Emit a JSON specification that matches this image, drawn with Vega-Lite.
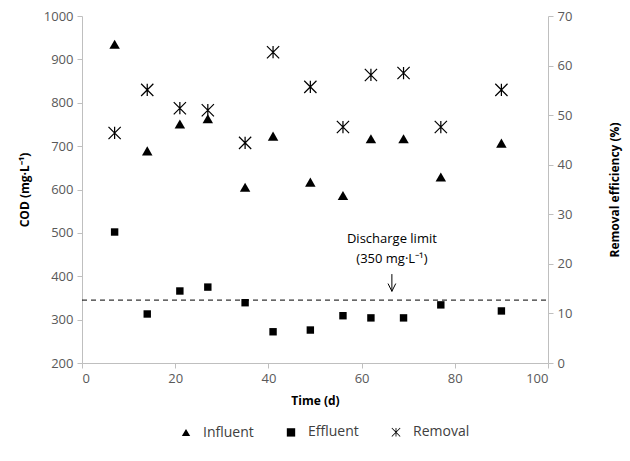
{
  "$schema": "https://vega.github.io/schema/vega-lite/v6.json",
  "width": 466,
  "height": 347,
  "autosize": "none",
  "padding": {"left": 82, "top": 16, "right": 82, "bottom": 98},
  "background": "white",
  "config": {
    "view": {"stroke": null},
    "font": "Open Sans",
    "axis": {"labelFont": "Open Sans", "labelFontSize": 13, "labelColor": "#595959", "domainColor": "#bfbfbf", "tickColor": "#bfbfbf", "grid": false, "titleFont": "Open Sans", "titleFontSize": 12, "titleFontWeight": "bold", "titleColor": "#000000", "tickSize": 5, "format": "d"}
  },
  "datasets": {
    "cod": [
      {"time": 7, "series": "Influent", "value": 935},
      {"time": 14, "series": "Influent", "value": 689},
      {"time": 21, "series": "Influent", "value": 751},
      {"time": 27, "series": "Influent", "value": 763},
      {"time": 35, "series": "Influent", "value": 605},
      {"time": 41, "series": "Influent", "value": 723},
      {"time": 49, "series": "Influent", "value": 617},
      {"time": 56, "series": "Influent", "value": 586},
      {"time": 62, "series": "Influent", "value": 717},
      {"time": 69, "series": "Influent", "value": 717},
      {"time": 77, "series": "Influent", "value": 629},
      {"time": 90, "series": "Influent", "value": 707},
      {"time": 7, "series": "Effluent", "value": 502},
      {"time": 14, "series": "Effluent", "value": 313},
      {"time": 21, "series": "Effluent", "value": 366},
      {"time": 27, "series": "Effluent", "value": 375},
      {"time": 35, "series": "Effluent", "value": 339},
      {"time": 41, "series": "Effluent", "value": 272},
      {"time": 49, "series": "Effluent", "value": 276},
      {"time": 56, "series": "Effluent", "value": 309},
      {"time": 62, "series": "Effluent", "value": 304},
      {"time": 69, "series": "Effluent", "value": 304},
      {"time": 77, "series": "Effluent", "value": 334},
      {"time": 90, "series": "Effluent", "value": 320}
    ],
    "removal": [
      {"time": 7, "series": "Removal", "value": 46.4},
      {"time": 14, "series": "Removal", "value": 55.1},
      {"time": 21, "series": "Removal", "value": 51.4},
      {"time": 27, "series": "Removal", "value": 51.0},
      {"time": 35, "series": "Removal", "value": 44.4},
      {"time": 41, "series": "Removal", "value": 62.7},
      {"time": 49, "series": "Removal", "value": 55.7},
      {"time": 56, "series": "Removal", "value": 47.6},
      {"time": 62, "series": "Removal", "value": 58.1},
      {"time": 69, "series": "Removal", "value": 58.5},
      {"time": 77, "series": "Removal", "value": 47.6},
      {"time": 90, "series": "Removal", "value": 55.1}
    ],
    "limit": [{"limit": 345}],
    "notes": [
      {"time": 66.5, "cod": 487, "label": "Discharge limit"},
      {"time": 66.5, "cod": 440, "label": "(350 mg·L⁻¹)"}
    ],
    "arrow": [{"time": 66.5, "top": 405, "bottom": 365}]
  },
  "layer": [
    {
      "data": {"name": "removal"},
      "mark": {"type": "point", "filled": true, "color": "#000000", "size": 150, "opacity": 1},
      "encoding": {
        "x": {"field": "time", "type": "quantitative", "scale": {"domain": [0, 100], "nice": false}, "axis": {"values": [0, 20, 40, 60, 80, 100], "title": "Time (d)", "titlePadding": 10, "labelPadding": 4}},
        "y": {"field": "value", "type": "quantitative", "scale": {"domain": [0, 70], "nice": false}, "axis": {"orient": "right", "values": [0, 10, 20, 30, 40, 50, 60, 70], "title": "Removal efficiency (%)", "titleAngle": 270, "titlePadding": 50, "labelPadding": 4}},
        "shape": {"field": "series", "type": "nominal", "scale": {"domain": ["Influent", "Effluent", "Removal"], "range": ["triangle-up", "square", "M-0.1,-1L0.1,-1L0.1,1L-0.1,1ZM-0.93,-1.07L1.07,0.93L0.93,1.07L-1.07,-0.93ZM-1.07,0.93L0.93,-1.07L1.07,-0.93L-0.93,1.07Z"]}, "legend": {"title": null, "orient": "none", "direction": "horizontal", "legendX": 97, "legendY": 409, "labelFontSize": 14, "labelColor": "#404040", "labelFont": "Open Sans", "symbolSize": 70, "columnPadding": 29, "labelOffset": 10, "symbolFillColor": "#000000"}}
      }
    },
    {
      "layer": [
        {
          "data": {"name": "limit"},
          "mark": {"type": "rule", "color": "#000000", "strokeDash": [5, 4], "strokeWidth": 1},
          "encoding": {
            "x": {"datum": 0, "type": "quantitative"},
            "x2": {"datum": 100},
            "y": {"field": "limit", "type": "quantitative"}
          }
        },
        {
          "data": {"name": "cod"},
          "transform": [{"filter": "datum.series === 'Influent'"}],
          "mark": {"type": "point", "filled": true, "color": "#000000", "size": 110, "opacity": 1},
          "encoding": {
            "x": {"field": "time", "type": "quantitative"},
            "y": {"field": "value", "type": "quantitative", "scale": {"domain": [200, 1000], "nice": false, "zero": false}, "axis": {"orient": "left", "values": [200, 300, 400, 500, 600, 700, 800, 900, 1000], "title": "COD (mg·L⁻¹)", "titlePadding": 12, "labelPadding": 4}},
            "shape": {"field": "series", "type": "nominal"}
          }
        },
        {
          "data": {"name": "cod"},
          "transform": [{"filter": "datum.series === 'Effluent'"}],
          "mark": {"type": "point", "filled": true, "color": "#000000", "size": 55, "opacity": 1},
          "encoding": {
            "x": {"field": "time", "type": "quantitative"},
            "y": {"field": "value", "type": "quantitative"},
            "shape": {"field": "series", "type": "nominal"}
          }
        },
        {
          "data": {"name": "notes"},
          "mark": {"type": "text", "font": "Open Sans", "fontSize": 13, "color": "#000000"},
          "encoding": {
            "x": {"field": "time", "type": "quantitative"},
            "y": {"field": "cod", "type": "quantitative"},
            "text": {"field": "label"}
          }
        },
        {
          "data": {"name": "arrow"},
          "mark": {"type": "rule", "color": "#000000", "strokeWidth": 1},
          "encoding": {
            "x": {"field": "time", "type": "quantitative"},
            "y": {"field": "top", "type": "quantitative"},
            "y2": {"field": "bottom"}
          }
        },
        {
          "data": {"name": "arrow"},
          "mark": {"type": "point", "shape": "M-1,-1L0,1L1,-1", "filled": false, "color": "#000000", "size": 60, "strokeWidth": 1, "opacity": 1, "yOffset": -4},
          "encoding": {
            "x": {"field": "time", "type": "quantitative"},
            "y": {"field": "bottom", "type": "quantitative"}
          }
        }
      ]
    }
  ],
  "resolve": {"scale": {"y": "independent"}}
}
